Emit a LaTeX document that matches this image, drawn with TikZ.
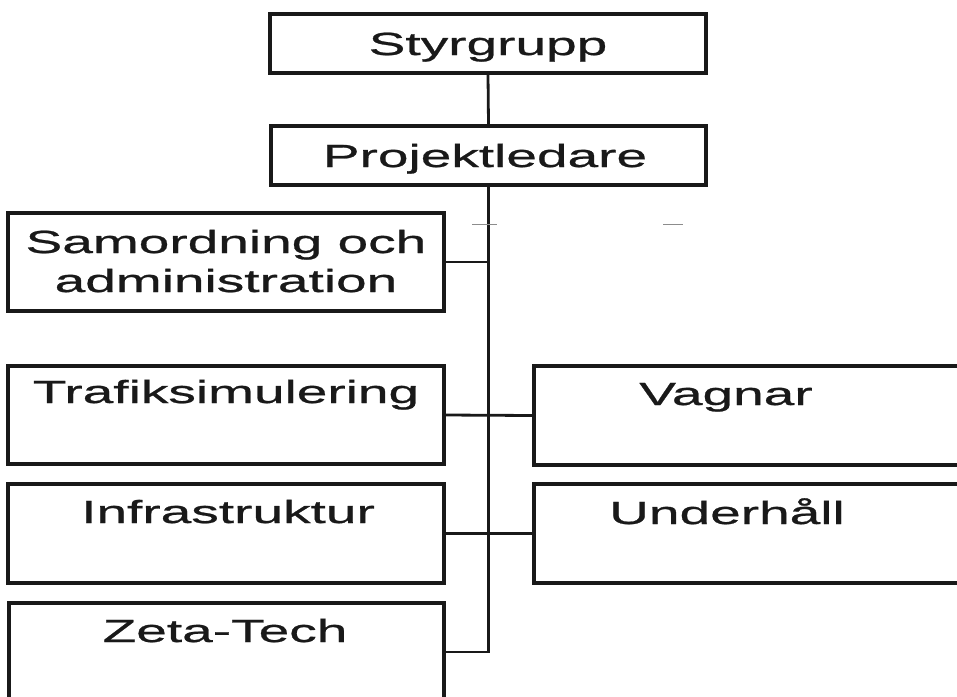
\documentclass[tikz,border=0pt]{standalone}
\usepackage{fontspec}
\setmainfont[FakeStretch=1.72,FakeBold=0.8]{Liberation Sans}
\begin{document}
\begin{tikzpicture}[x=1pt,y=-1pt,
  box/.style={draw=black!90,line width=3.4pt,rectangle,inner sep=0pt,fill=white},
  lbl/.style={anchor=base,inner sep=0pt,font=\fontsize{32}{39}\selectfont,text=black!90},
  conn/.style={draw=black!90,line width=2.8pt},
  smudge/.style={draw=black!45,line width=1pt}]
\useasboundingbox (0,0) rectangle (957,696);
% boxes
\node[box,minimum width=436,minimum height=59] (sty) at (488,43.5) {};
\node[box,minimum width=435,minimum height=59] (proj) at (488.5,155.5) {};
\node[box,minimum width=436,minimum height=98] (sam) at (226,262) {};
\node[box,minimum width=436,minimum height=98] (traf) at (226,415) {};
\node[box,minimum width=436,minimum height=99] (infra) at (226,533.5) {};
\node[box,minimum width=435,minimum height=98] (zeta) at (226.5,652) {};
\node[box,minimum width=436,minimum height=99] (vag) at (752,415.5) {};
\node[box,minimum width=436,minimum height=99] (und) at (752,533.5) {};
% labels
\node[lbl] (tsty) at (488,55) {Styrgrupp};
\node[lbl] (tproj) at (485,167) {Projektledare};
\node[lbl] (tsam1) at (226,253) {Samordning och};
\node[lbl] (tsam2) at (226,292) {administration};
\node[lbl] (ttraf) at (226,403) {Trafiksimulering};
\node[lbl] (tinfra) at (228,523) {Infrastruktur};
\node[lbl] (tzeta) at (225,642) {Zeta-Tech};
\node[lbl] (tvag) at (726,405) {Vagnar};
\node[lbl] (tund) at (727,524) {Underhåll};
% connectors
\draw[conn] (sty.south) -- (proj.north);
\draw[conn] (proj.south) -- (proj.south |- zeta.east) -- (zeta.east);
\draw[conn] (sam.east) -- (sam.east -| proj.south);
\draw[conn] (traf.east) -- (vag.west);
\draw[conn] (infra.east) -- (und.west);
% faint scan marks
\coordinate (m1a) at (472,224); \coordinate (m1b) at (497,224);
\coordinate (m2a) at (663,224); \coordinate (m2b) at (683,224);
\draw[smudge] (m1a) -- (m1b);
\draw[smudge] (m2a) -- (m2b);
\end{tikzpicture}
\end{document}
